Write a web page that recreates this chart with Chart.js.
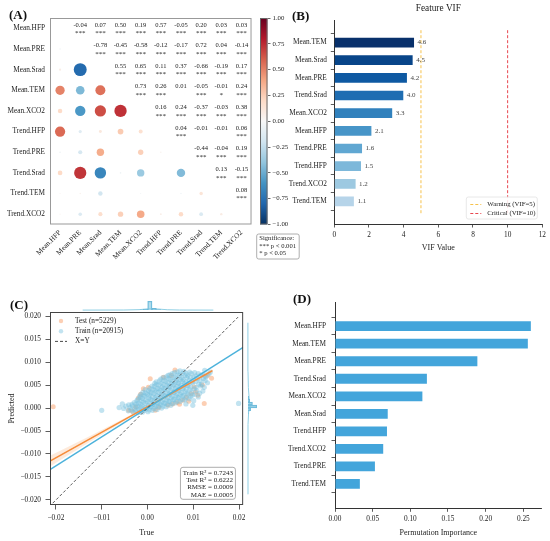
<!DOCTYPE html>
<html>
<head>
<meta charset="utf-8">
<script src="https://cdn.jsdelivr.net/npm/chart.js@4.4.0/dist/chart.umd.min.js"></script>
<style>
  html, body { margin: 0; padding: 0; background: #fff; }
  #wrap { position: relative; width: 550px; height: 541px; overflow: hidden; }
  canvas { position: absolute; }
  .lbl { position: absolute; font: bold 13px "Liberation Serif", serif; line-height: 13px; color: #111; }
</style>
</head>
<body>
<div id="wrap">
  <canvas id="cA" width="258" height="275" style="left:0;top:0"></canvas>
  <canvas id="cCb" width="50" height="265" style="left:255px;top:0"></canvas>
  <canvas id="cB" width="280" height="258" style="left:270px;top:0"></canvas>
  <canvas id="cC" width="250" height="261" style="left:0;top:280px"></canvas>
  <canvas id="cCt" width="196" height="10" style="left:50px;top:301px"></canvas>
  <canvas id="cCr" width="10" height="193" style="left:247px;top:312px"></canvas>
  <canvas id="cD" width="275" height="271" style="left:275px;top:270px"></canvas>
  <div class="lbl" style="left:9px;top:8px">(A)</div>
  <div class="lbl" style="left:292px;top:9px">(B)</div>
  <div class="lbl" style="left:10px;top:298px">(C)</div>
  <div class="lbl" style="left:293px;top:292px">(D)</div>
</div>
<script>
// ---------- data ----------
// (A) correlation matrix, upper triangle row by row
const corrVars = ['Mean.HFP', 'Mean.PRE', 'Mean.Srad', 'Mean.TEM', 'Mean.XCO2',
                  'Trend.HFP', 'Trend.PRE', 'Trend.Srad', 'Trend.TEM', 'Trend.XCO2'];
const corrUpper = [
  [-0.04, 0.07, 0.50, 0.19, 0.57, -0.05, 0.20, 0.03, 0.03],
  [-0.78, -0.45, -0.58, -0.12, -0.17, 0.72, 0.04, -0.14],
  [0.55, 0.65, 0.11, 0.37, -0.66, -0.19, 0.17],
  [0.73, 0.26, 0.01, -0.05, -0.01, 0.24],
  [0.16, 0.24, -0.37, -0.03, 0.38],
  [0.04, -0.01, -0.01, 0.06],
  [-0.44, -0.04, 0.19],
  [0.13, -0.15],
  [0.08]
];
const corrSig = [
  ['***', '***', '***', '***', '***', '***', '***', '***', '***'],
  ['***', '***', '***', '***', '***', '***', '***', '***'],
  ['***', '***', '***', '***', '***', '***', '***'],
  ['***', '***', '', '***', '*', '***'],
  ['***', '***', '***', '***', '***'],
  ['***', '', '', '***'],
  ['***', '***', '***'],
  ['***', '***'],
  ['***']
];
const cbTicks = [-1, -0.75, -0.5, -0.25, 0, 0.25, 0.5, 0.75, 1];
const sigLines = ['Significance:', '*** p < 0.001', '* p < 0.05'];

// (B) VIF
const vifFeatures = ['Mean.TEM', 'Mean.Srad', 'Mean.PRE', 'Trend.Srad', 'Mean.XCO2',
                     'Mean.HFP', 'Trend.PRE', 'Trend.HFP', 'Trend.XCO2', 'Trend.TEM'];
const vifValues = [4.60, 4.52, 4.19, 3.98, 3.34, 2.14, 1.60, 1.54, 1.23, 1.13];
const vifTicks = [0, 2, 4, 6, 8, 10, 12];
const vifWarning = 5;
const vifCritical = 10;

// (C) predicted vs true
const testPts = [
  [-0.0206, 0.0003], [-0.0041, -0.0005], [-0.0033, -0.0007], [-0.0026, 0.0002], [-0.0020, 0.0022],
  [-0.0015, 0.0030], [-0.0009, 0.0042], [0.0002, 0.0045], [0.0006, 0.0064], [0.0017, -0.0005],
  [0.0025, 0.0001], [0.0035, 0.0067], [0.0045, 0.0006], [0.0052, 0.0071], [0.0055, 0.0009],
  [0.0060, 0.0083], [0.0065, 0.0012], [0.0070, 0.0008], [0.0077, 0.0017], [0.0085, 0.0024],
  [0.0090, 0.0015], [0.0095, 0.0031], [0.0102, 0.0046], [0.0105, 0.0035], [0.0110, 0.0028],
  [0.0120, 0.0050], [0.0124, 0.0010], [0.0131, 0.0071], [0.0140, 0.0065]
];
const trainPts = [
  [-0.0100, -0.0005], [-0.0062, 0.0001], [-0.0055, 0.0009], [0.0199, 0.0010],
  [-0.0052, -0.0001], [-0.0047, 0.0004],
  [-0.0042, -0.0006], [-0.0038, 0.0001], [-0.0041, 0.0007],
  [-0.0036, -0.0004], [-0.0034, 0.0008],
  [-0.0031, -0.0009], [-0.0028, -0.0002], [-0.0033, 0.0005], [-0.0029, 0.0012],
  [-0.0026, -0.0006], [-0.0024, 0.0002], [-0.0025, 0.0009], [-0.0023, 0.0016],
  [-0.0021, -0.0010], [-0.0018, -0.0003], [-0.0022, 0.0004], [-0.0019, 0.0011], [-0.0021, 0.0019], [-0.0017, 0.0026],
  [-0.0016, -0.0006], [-0.0014, 0.0001], [-0.0015, 0.0008], [-0.0013, 0.0016], [-0.0016, 0.0023], [-0.0014, 0.0030],
  [-0.0011, -0.0009], [-0.0008, -0.0002], [-0.0012, 0.0005], [-0.0009, 0.0013], [-0.0011, 0.0021], [-0.0007, 0.0028], [-0.0010, 0.0034],
  [-0.0006, -0.0005], [-0.0004, 0.0002], [-0.0005, 0.0010], [-0.0003, 0.0018], [-0.0006, 0.0025], [-0.0004, 0.0033], [-0.0005, 0.0040],
  [0.0001, -0.0008], [-0.0002, -0.0001], [0.0002, 0.0006], [-0.0001, 0.0014], [0.0003, 0.0022], [0.0000, 0.0030], [0.0002, 0.0038],
  [0.0004, -0.0004], [0.0006, 0.0003], [0.0005, 0.0011], [0.0007, 0.0019], [0.0004, 0.0027], [0.0006, 0.0035], [0.0005, 0.0043],
  [0.0011, -0.0005], [0.0008, 0.0002], [0.0012, 0.0009], [0.0009, 0.0017], [0.0011, 0.0025], [0.0008, 0.0033], [0.0012, 0.0041], [0.0010, 0.0048],
  [0.0014, -0.0001], [0.0016, 0.0007], [0.0015, 0.0015], [0.0017, 0.0023], [0.0014, 0.0031], [0.0016, 0.0039], [0.0015, 0.0047], [0.0016, 0.0054],
  [0.0021, -0.0003], [0.0018, 0.0004], [0.0022, 0.0011], [0.0019, 0.0019], [0.0021, 0.0027], [0.0018, 0.0035], [0.0022, 0.0043], [0.0020, 0.0051], [0.0019, 0.0057],
  [0.0024, 0.0003], [0.0026, 0.0010], [0.0025, 0.0018], [0.0027, 0.0026], [0.0024, 0.0034], [0.0026, 0.0042], [0.0025, 0.0050], [0.0026, 0.0059],
  [0.0031, 0.0000], [0.0028, 0.0007], [0.0032, 0.0014], [0.0029, 0.0022], [0.0031, 0.0030], [0.0028, 0.0038], [0.0032, 0.0046], [0.0030, 0.0054], [0.0029, 0.0063],
  [0.0034, 0.0004], [0.0036, 0.0011], [0.0035, 0.0019], [0.0037, 0.0027], [0.0034, 0.0035], [0.0036, 0.0043], [0.0035, 0.0051], [0.0036, 0.0060], [0.0034, 0.0066],
  [0.0041, 0.0003], [0.0038, 0.0010], [0.0042, 0.0018], [0.0039, 0.0026], [0.0041, 0.0034], [0.0038, 0.0042], [0.0042, 0.0050], [0.0040, 0.0058], [0.0041, 0.0068],
  [0.0044, 0.0008], [0.0046, 0.0015], [0.0045, 0.0023], [0.0047, 0.0031], [0.0044, 0.0039], [0.0046, 0.0047], [0.0045, 0.0055], [0.0046, 0.0064], [0.0045, 0.0071],
  [0.0051, 0.0006], [0.0048, 0.0014], [0.0052, 0.0022], [0.0049, 0.0030], [0.0051, 0.0038], [0.0048, 0.0046], [0.0052, 0.0054], [0.0050, 0.0062], [0.0049, 0.0072],
  [0.0054, 0.0010], [0.0056, 0.0018], [0.0055, 0.0026], [0.0057, 0.0034], [0.0054, 0.0042], [0.0056, 0.0050], [0.0055, 0.0058], [0.0056, 0.0067], [0.0054, 0.0075],
  [0.0061, 0.0011], [0.0058, 0.0019], [0.0062, 0.0027], [0.0059, 0.0035], [0.0061, 0.0043], [0.0058, 0.0051], [0.0062, 0.0059], [0.0060, 0.0067], [0.0059, 0.0077],
  [0.0064, 0.0015], [0.0066, 0.0023], [0.0065, 0.0031], [0.0067, 0.0039], [0.0064, 0.0047], [0.0066, 0.0055], [0.0065, 0.0063], [0.0066, 0.0072], [0.0065, 0.0079],
  [0.0071, 0.0014], [0.0068, 0.0022], [0.0072, 0.0030], [0.0069, 0.0038], [0.0071, 0.0046], [0.0068, 0.0054], [0.0072, 0.0062], [0.0070, 0.0071], [0.0071, 0.0081],
  [0.0074, 0.0018], [0.0076, 0.0026], [0.0075, 0.0034], [0.0077, 0.0042], [0.0074, 0.0050], [0.0076, 0.0058], [0.0075, 0.0066], [0.0076, 0.0075],
  [0.0081, 0.0018], [0.0078, 0.0027], [0.0082, 0.0036], [0.0079, 0.0045], [0.0081, 0.0053], [0.0078, 0.0062], [0.0082, 0.0071], [0.0080, 0.0080],
  [0.0084, 0.0022], [0.0086, 0.0032], [0.0085, 0.0041], [0.0087, 0.0049], [0.0084, 0.0057], [0.0086, 0.0066], [0.0085, 0.0075],
  [0.0091, 0.0020], [0.0088, 0.0030], [0.0092, 0.0040], [0.0089, 0.0050], [0.0091, 0.0060], [0.0088, 0.0070], [0.0092, 0.0078],
  [0.0094, 0.0025], [0.0096, 0.0035], [0.0095, 0.0046], [0.0097, 0.0057], [0.0094, 0.0067], [0.0096, 0.0075],
  [0.0101, 0.0016], [0.0098, 0.0028], [0.0102, 0.0042], [0.0099, 0.0055], [0.0101, 0.0066], [0.0103, 0.0077],
  [0.0104, 0.0030], [0.0106, 0.0045], [0.0105, 0.0058], [0.0106, 0.0070],
  [0.0111, 0.0024], [0.0108, 0.0038], [0.0112, 0.0052], [0.0109, 0.0064], [0.0111, 0.0075],
  [0.0114, 0.0032], [0.0116, 0.0048], [0.0115, 0.0060], [0.0116, 0.0071],
  [0.0121, 0.0037], [0.0118, 0.0052], [0.0122, 0.0064], [0.0120, 0.0073],
  [0.0124, 0.0045], [0.0126, 0.0060], [0.0125, 0.0070],
  [0.0131, 0.0055], [0.0128, 0.0068], [0.0134, 0.0074], [0.0137, 0.0078], [0.0125, 0.0082],
  [0.0099, 0.0006], [0.0084, 0.0009]
];
const trainFitX = [-0.0213, 0.0209];
const trainFitY = [-0.0134, 0.0132];
const testFitX = [-0.0213, 0.0142];
const testFitY = [-0.01156, 0.00815];
const testBandX = [-0.0213, -0.012, -0.004, 0.002, 0.008, 0.0142];
const testBandHi = [-0.0104, -0.0058, -0.0017, 0.0015, 0.0049, 0.0085];
const testBandLo = [-0.0127, -0.0070, -0.0022, 0.0012, 0.0045, 0.0078];
const identityX = [-0.0207, 0.0198];
const cXTicks = [-0.02, -0.01, 0, 0.01, 0.02];
const cYTicks = [-0.02, -0.015, -0.01, -0.005, 0, 0.005, 0.01, 0.015, 0.02];
const statsLines = ['Train R\u00b2 = 0.7243', 'Test R\u00b2 = 0.6222', 'RMSE = 0.0009', 'MAE = 0.0005'];
// marginal distributions (relative heights)
const topHistX = [-0.0024, -0.0010, 0.0004, 0.0018, 0.0032];
const topHistH = [0.03, 0.12, 1.0, 0.18, 0.05];
const topKdeX = [-0.0213, -0.008, -0.003, 0.0, 0.003, 0.006, 0.010, 0.0209];
const topKdeY = [0.0, 0.01, 0.05, 0.14, 0.12, 0.04, 0.01, 0.0];
const rightHistY = [-0.0010, -0.0003, 0.0004, 0.0011, 0.0018, 0.0025];
const rightHistW = [0.05, 0.3, 1.0, 0.5, 0.2, 0.08];
const rightKdeY = [-0.0211, -0.004, -0.001, 0.0004, 0.002, 0.005, 0.009, 0.0209];
const rightKdeX = [0.0, 0.01, 0.08, 0.25, 0.15, 0.05, 0.01, 0.0];

// (D) permutation importance
const permFeatures = ['Mean.HFP', 'Mean.TEM', 'Mean.PRE', 'Trend.Srad', 'Mean.XCO2',
                      'Mean.Srad', 'Trend.HFP', 'Trend.XCO2', 'Trend.PRE', 'Trend.TEM'];
const permValues = [0.260, 0.256, 0.189, 0.122, 0.116, 0.070, 0.069, 0.064, 0.053, 0.033];
const permTicks = [0, 0.05, 0.10, 0.15, 0.20, 0.25];

// ---------- helpers ----------
const FONT = '"Liberation Serif", "Times New Roman", serif';
Chart.defaults.font.family = FONT;
Chart.defaults.color = '#222';
Chart.defaults.animation = false;
Chart.defaults.events = [];
Chart.defaults.plugins.legend.display = false;
Chart.defaults.plugins.tooltip.enabled = false;

const fixW = w => s => { s.width = w; };
const fixH = h => s => { s.height = h; };
const setTicks = arr => s => { s.ticks = arr.map(v => ({ value: v })); };
const fmt = (v, d) => (v < -1e-12 ? '\u2212' : '') + Math.abs(v).toFixed(d);
const idx = n => Array.from({ length: n }, (_, i) => i);

function hexRgb(h) { return [1, 3, 5].map(k => parseInt(h.slice(k, k + 2), 16)); }
function lerpStops(stops, t) {
  t = Math.min(1, Math.max(0, t));
  const p = t * (stops.length - 1), i = Math.min(Math.floor(p), stops.length - 2), f = p - i;
  const a = hexRgb(stops[i]), b = hexRgb(stops[i + 1]);
  return 'rgb(' + a.map((c, k) => Math.round(c + (b[k] - c) * f)).join(',') + ')';
}
const RDBU = ['#053061', '#2166ac', '#4393c3', '#92c5de', '#d1e5f0', '#f7f7f7',
              '#fddbc7', '#f4a582', '#d6604d', '#b2182b', '#67001f'];
const BLUES = ['#f7fbff', '#deebf7', '#c6dbef', '#9ecae1', '#6baed6', '#4292c6', '#2171b5', '#08519c', '#08306b'];
const rdbu = v => lerpStops(RDBU, (v + 1) / 2);

const frame = color => ({
  id: 'frame',
  afterDraw(chart) {
    const a = chart.chartArea, c = chart.ctx;
    c.save();
    c.strokeStyle = color;
    c.lineWidth = 1;
    c.strokeRect(a.left + 0.5, a.top + 0.5, a.width - 1, a.height - 1);
    c.restore();
  }
});
const axisGrid = { display: true, drawOnChartArea: false, drawTicks: true, tickLength: 3.5, color: '#333', lineWidth: 0.8 };
const axisBorder = { display: true, color: '#333', width: 1 };
const noGrid = { display: false, drawTicks: false };
function roundBox(c, x, y, w, h, r, stroke) {
  c.beginPath();
  c.roundRect(x, y, w, h, r);
  c.fillStyle = 'rgba(255,255,255,0.85)';
  c.fill();
  c.strokeStyle = stroke;
  c.lineWidth = 0.8;
  c.stroke();
}

// ---------- (A) correlation bubbles ----------
const nVar = corrVars.length;
const bubbleData = [];
for (let i = 1; i < nVar; i++) {
  for (let j = 0; j < i; j++) {
    const v = corrUpper[j][i - j - 1];
    bubbleData.push({ x: j, y: i, v: v, r: 7.8 * Math.pow(Math.abs(v), 0.75) });
  }
}
const corrText = {
  id: 'corrText',
  afterDatasetsDraw(chart) {
    const { ctx, scales: { x, y } } = chart;
    ctx.save();
    ctx.fillStyle = '#222';
    ctx.textAlign = 'center';
    ctx.textBaseline = 'middle';
    corrUpper.forEach((row, i) => row.forEach((v, k) => {
      const px = x.getPixelForValue(i + 1 + k), py = y.getPixelForValue(i);
      ctx.font = '6.5px ' + FONT;
      ctx.fillText(v.toFixed(2), px, py - 3.5);
      if (corrSig[i][k]) {
        ctx.font = '7px ' + FONT;
        ctx.fillText(corrSig[i][k], px, py + 4.8);
      }
    }));
    ctx.restore();
  }
};
new Chart(document.getElementById('cA'), {
  type: 'bubble',
  data: { datasets: [{ data: bubbleData, backgroundColor: c => rdbu(c.raw ? c.raw.v : 0), borderWidth: 0 }] },
  options: {
    responsive: false,
    layout: { padding: { top: 18, right: 3 } },
    scales: {
      x: {
        type: 'linear', min: -0.5, max: 9.5,
        afterBuildTicks: setTicks(idx(nVar)), afterFit: fixH(50.5),
        grid: noGrid, border: { display: false },
        ticks: { autoSkip: false, minRotation: 45, maxRotation: 45, padding: 4, font: { size: 7.3 }, callback: v => corrVars[v] }
      },
      y: {
        type: 'linear', min: -0.5, max: 9.5, reverse: true,
        afterBuildTicks: setTicks(idx(nVar)), afterFit: fixW(50),
        grid: noGrid, border: { display: false },
        ticks: { autoSkip: false, padding: 5, font: { size: 7.3 }, callback: v => corrVars[v] }
      }
    }
  },
  plugins: [frame('#999'), corrText]
});

// colorbar + significance note
const sigBox = {
  id: 'sigBox',
  afterDraw(chart) {
    const c = chart.ctx;
    c.save();
    roundBox(c, 1.7, 234, 42.5, 25, 2, '#999');
    c.fillStyle = '#222';
    c.font = '6.6px ' + FONT;
    c.textBaseline = 'middle';
    sigLines.forEach((t, k) => c.fillText(t, 4.3, 238.5 + k * 7.5));
    c.restore();
  }
};
new Chart(document.getElementById('cCb'), {
  type: 'bar',
  data: {
    labels: [''],
    datasets: [{
      data: [[cbTicks[0], cbTicks[cbTicks.length - 1]]],
      barPercentage: 1, categoryPercentage: 1, borderWidth: 0,
      backgroundColor: ctx => {
        const ch = ctx.chart, ys = ch.scales.y;
        if (!ch.chartArea || !ys) return '#ccc';
        const g = ch.ctx.createLinearGradient(0, ys.getPixelForValue(-1), 0, ys.getPixelForValue(1));
        RDBU.forEach((col, i) => g.addColorStop(i / (RDBU.length - 1), col));
        return g;
      }
    }]
  },
  options: {
    responsive: false,
    layout: { padding: { left: 5, top: 18, bottom: 40.5 } },
    scales: {
      x: { display: false },
      y: {
        position: 'right', min: -1, max: 1,
        afterBuildTicks: setTicks(cbTicks), afterFit: fixW(37.5),
        grid: { display: true, drawOnChartArea: false, drawTicks: true, tickLength: 3, color: '#444', lineWidth: 0.8 },
        border: { display: false },
        ticks: { padding: 2, font: { size: 6.8 }, callback: v => fmt(v, 2) }
      }
    }
  },
  plugins: [frame('#666'), sigBox]
});

// ---------- (B) VIF ----------
const bYMin = -0.7, bYMax = 9.7;
const barLabels = {
  id: 'barLabels',
  afterDatasetsDraw(chart) {
    const c = chart.ctx, meta = chart.getDatasetMeta(0);
    c.save();
    c.font = '7px ' + FONT;
    c.fillStyle = '#444';
    c.textBaseline = 'middle';
    meta.data.forEach((el, i) => c.fillText(vifValues[i].toFixed(1), el.x + 3.5, el.y));
    c.restore();
  }
};
const vifDecor = {
  id: 'vifDecor',
  afterDraw(chart) {
    const a = chart.chartArea, c = chart.ctx;
    c.save();
    c.fillStyle = '#222';
    c.font = '9.3px ' + FONT;
    c.textAlign = 'center';
    c.textBaseline = 'middle';
    c.fillText('Feature VIF', (a.left + a.right) / 2, 8.5);
    // legend for the threshold lines
    const bx = a.right - 76, by = a.bottom - 27;
    roundBox(c, bx, by, 71, 22, 2, '#e2e2e2');
    c.textAlign = 'left';
    c.font = '6.8px ' + FONT;
    [1, 2].forEach((di, k) => {
      const d = chart.data.datasets[di], yy = by + 7.5 + k * 9;
      c.strokeStyle = d.borderColor;
      c.lineWidth = 1;
      c.setLineDash([3, 2]);
      c.beginPath(); c.moveTo(bx + 4, yy); c.lineTo(bx + 15, yy); c.stroke();
      c.setLineDash([]);
      c.fillStyle = '#222';
      c.fillText(d.label, bx + 21, yy);
    });
    c.restore();
  }
};
new Chart(document.getElementById('cB'), {
  type: 'bar',
  data: {
    datasets: [
      {
        data: vifFeatures.map((f, i) => ({ x: vifValues[i], y: i })),
        backgroundColor: vifFeatures.map((f, i) => lerpStops(BLUES, 1 - 0.7 * i / (vifFeatures.length - 1))),
        barPercentage: 0.55, categoryPercentage: 1
      },
      {
        type: 'line', indexAxis: 'y', label: 'Warning (VIF=5)',
        data: [{ x: vifWarning, y: bYMin }, { x: vifWarning, y: bYMax }],
        borderColor: '#f6c24c', borderWidth: 1, borderDash: [3, 2], pointRadius: 0, fill: false
      },
      {
        type: 'line', indexAxis: 'y', label: 'Critical (VIF=10)',
        data: [{ x: vifCritical, y: bYMin }, { x: vifCritical, y: bYMax }],
        borderColor: '#e8474f', borderWidth: 1, borderDash: [3, 2], pointRadius: 0, fill: false
      }
    ]
  },
  options: {
    indexAxis: 'y',
    responsive: false,
    layout: { padding: { top: 20, right: 7.7 } },
    scales: {
      x: {
        type: 'linear', min: 0, max: 12,
        afterBuildTicks: setTicks(vifTicks), afterFit: fixH(34),
        grid: axisGrid, border: axisBorder,
        ticks: { padding: 3.5, font: { size: 7.3 }, callback: v => String(v) },
        title: { display: true, text: 'VIF Value', font: { size: 8 }, padding: { top: 0, bottom: 5.5 } }
      },
      y: {
        type: 'linear', min: bYMin, max: bYMax, reverse: true,
        afterBuildTicks: setTicks(idx(vifFeatures.length)), afterFit: fixW(64.3),
        grid: axisGrid, border: axisBorder,
        ticks: { autoSkip: false, padding: 4, font: { size: 7.3 }, callback: v => vifFeatures[v] }
      }
    }
  },
  plugins: [barLabels, vifDecor]
});

// ---------- (C) predicted vs true ----------
const cXMin = -0.0213, cXMax = 0.0209, cYMin = -0.0211, cYMax = 0.0209;
const cDecor = {
  id: 'cDecor',
  afterDraw(chart) {
    const a = chart.chartArea, c = chart.ctx, ds = chart.data.datasets;
    c.save();
    c.font = '7.3px ' + FONT;
    c.textBaseline = 'middle';
    [ds[6], ds[5], ds[0]].forEach((d, k) => {
      const yy = a.top + 9 + k * 10.2;
      if (d.type === 'line') {
        c.strokeStyle = d.borderColor; c.lineWidth = 0.9; c.setLineDash([3, 2]);
        c.beginPath(); c.moveTo(a.left + 5, yy); c.lineTo(a.left + 17, yy); c.stroke();
        c.setLineDash([]);
      } else {
        c.fillStyle = d.backgroundColor;
        c.beginPath(); c.arc(a.left + 11, yy, 2.2, 0, Math.PI * 2); c.fill();
      }
      c.fillStyle = '#222';
      c.fillText(d.label, a.left + 25, yy);
    });
    // metrics box
    const bw = 55, bh = 32, bx = a.right - 7.7 - bw, by = a.bottom - 5.7 - bh;
    roundBox(c, bx, by, bw, bh, 2.5, '#999');
    c.fillStyle = '#222';
    c.font = '7px ' + FONT;
    c.textAlign = 'right';
    statsLines.forEach((t, k) => c.fillText(t, bx + bw - 2.5, by + 5.6 + k * 7.3));
    c.restore();
  }
};
const xy = (xs, ys) => xs.map((v, i) => ({ x: v, y: ys[i] }));
new Chart(document.getElementById('cC'), {
  type: 'scatter',
  data: {
    datasets: [
      { type: 'line', label: 'X=Y', data: xy(identityX, identityX), borderColor: '#333', borderWidth: 0.8, borderDash: [3, 2], pointRadius: 0, fill: false, order: 0 },
      { type: 'line', data: xy(trainFitX, trainFitY), borderColor: '#4cb2db', borderWidth: 1.4, pointRadius: 0, fill: false, order: 1 },
      { type: 'line', data: xy(testFitX, testFitY), borderColor: '#f68c3a', borderWidth: 1.4, pointRadius: 0, fill: false, order: 2 },
      { type: 'line', data: xy(testBandX, testBandHi), borderWidth: 0, pointRadius: 0, fill: false, order: 3 },
      { type: 'line', data: xy(testBandX, testBandLo), borderWidth: 0, pointRadius: 0, fill: '-1', backgroundColor: 'rgba(246,140,58,0.18)', order: 4 },
      { label: 'Train (n=20915)', data: trainPts.map(p => ({ x: p[0], y: p[1] })), backgroundColor: 'rgba(120,194,222,0.45)', pointRadius: 2.6, borderWidth: 0, order: 5 },
      { label: 'Test (n=5229)', data: testPts.map(p => ({ x: p[0], y: p[1] })), backgroundColor: 'rgba(250,168,118,0.55)', pointRadius: 2.5, borderWidth: 0, order: 6 }
    ]
  },
  options: {
    responsive: false,
    layout: { padding: { top: 32, right: 4 } },
    scales: {
      x: {
        type: 'linear', min: cXMin, max: cXMax,
        afterBuildTicks: setTicks(cXTicks), afterFit: fixH(36),
        grid: { display: true, drawOnChartArea: false, drawTicks: true, tickLength: 4.5, color: '#333', lineWidth: 0.8 },
        border: { display: false },
        ticks: { padding: 4.5, font: { size: 7.3 }, callback: v => fmt(v, 2) },
        title: { display: true, text: 'True', font: { size: 8 }, padding: { top: 0, bottom: 3.2 } }
      },
      y: {
        type: 'linear', min: cYMin, max: cYMax,
        afterBuildTicks: setTicks(cYTicks), afterFit: fixW(50),
        grid: { display: true, drawOnChartArea: false, drawTicks: true, tickLength: 4.5, color: '#333', lineWidth: 0.8 },
        border: { display: false },
        ticks: { padding: 4.5, font: { size: 7.3 }, callback: v => fmt(v, 3) },
        title: { display: true, text: 'Predicted', font: { size: 8 }, padding: { top: 6.9, bottom: 0 } }
      }
    }
  },
  plugins: [frame('#444'), cDecor]
});

// marginal distributions
new Chart(document.getElementById('cCt'), {
  type: 'bar',
  data: {
    datasets: [
      { data: xy(topHistX, topHistH), backgroundColor: 'rgba(130,200,226,0.6)', borderColor: '#6bb8d8', borderWidth: 0.8, barPercentage: 1, categoryPercentage: 1 },
      { type: 'line', data: xy(topKdeX, topKdeY), borderColor: '#8fcfe4', borderWidth: 1, pointRadius: 0, fill: false }
    ]
  },
  options: {
    responsive: false,
    scales: {
      x: { type: 'linear', display: false, min: cXMin, max: cXMax },
      y: { display: false, min: -0.1, max: 1 }
    }
  }
});
new Chart(document.getElementById('cCr'), {
  type: 'bar',
  data: {
    datasets: [
      { data: rightHistY.map((v, i) => ({ x: rightHistW[i], y: v })), backgroundColor: 'rgba(130,200,226,0.6)', borderColor: '#6bb8d8', borderWidth: 0.8, barPercentage: 1, categoryPercentage: 1 },
      { type: 'line', indexAxis: 'y', data: rightKdeY.map((v, i) => ({ x: rightKdeX[i], y: v })), borderColor: '#8fcfe4', borderWidth: 1, pointRadius: 0, fill: false }
    ]
  },
  options: {
    indexAxis: 'y',
    responsive: false,
    scales: {
      x: { type: 'linear', display: false, min: -0.1, max: 1 },
      y: { type: 'linear', display: false, min: cYMin, max: cYMax }
    }
  }
});

// ---------- (D) permutation importance ----------
new Chart(document.getElementById('cD'), {
  type: 'bar',
  data: {
    datasets: [{
      data: permFeatures.map((f, i) => ({ x: permValues[i], y: i })),
      backgroundColor: '#43a5db', barPercentage: 0.56, categoryPercentage: 1
    }]
  },
  options: {
    indexAxis: 'y',
    responsive: false,
    layout: { padding: { top: 32, right: 8.3 } },
    scales: {
      x: {
        type: 'linear', min: 0, max: 0.2744,
        afterBuildTicks: setTicks(permTicks), afterFit: fixH(32.7),
        grid: axisGrid, border: axisBorder,
        ticks: { padding: 3, font: { size: 7.3 }, callback: v => v.toFixed(2) },
        title: { display: true, text: 'Permutation Importance', font: { size: 8 }, padding: { top: 0, bottom: 3.5 } }
      },
      y: {
        type: 'linear', min: -0.79, max: 9.8, reverse: true,
        afterBuildTicks: setTicks(idx(permFeatures.length)), afterFit: fixW(60),
        grid: axisGrid, border: axisBorder,
        ticks: { autoSkip: false, padding: 5.5, font: { size: 7.3 }, callback: v => permFeatures[v] }
      }
    }
  }
});
</script>
</body>
</html>
